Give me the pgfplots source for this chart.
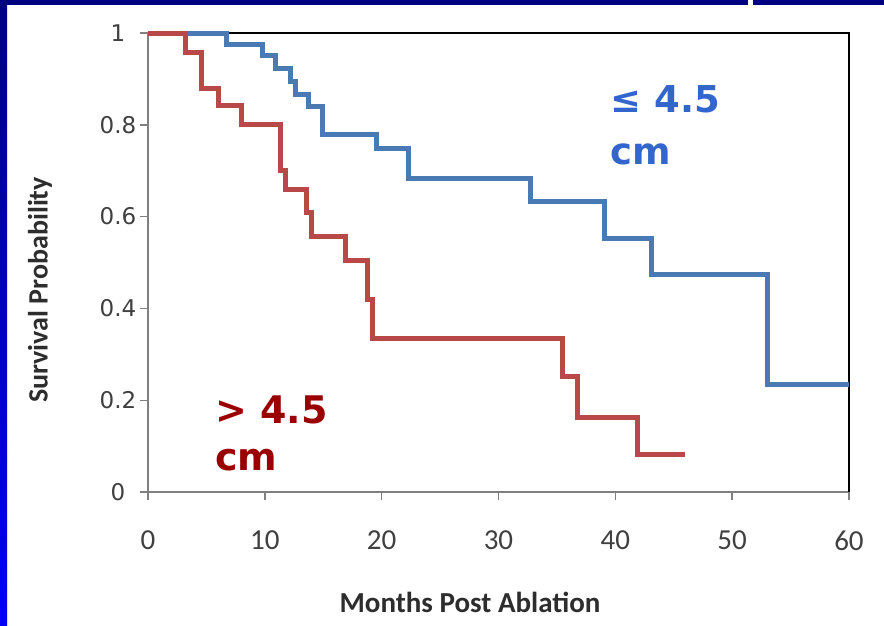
\documentclass[border=0pt]{standalone}
\usepackage{pgfplots}
\pgfplotsset{compat=1.18}
\usepackage{fontspec}
\setmainfont{Carlito}
\newfontfamily\dejavu{DejaVu Sans}
\definecolor{navytop}{RGB}{0,0,128}
\definecolor{bluebot}{RGB}{0,0,245}
\definecolor{blueline}{RGB}{74,122,180}
\definecolor{redline}{RGB}{185,72,72}
\definecolor{bluetext}{RGB}{51,102,204}
\definecolor{redtext}{RGB}{155,0,0}
\definecolor{labgray}{RGB}{64,64,64}

\pgfplotstableread{
x y
0 1
6.7 0.976
9.8 0.952
10.9 0.922
12.2 0.895
12.6 0.866
13.7 0.840
14.9 0.778
19.6 0.749
22.3 0.684
32.7 0.632
39.1 0.553
43.1 0.473
53.0 0.235
60 0.235
}\smalltable

\pgfplotstableread{
x y
0 1
3.2 0.958
4.6 0.880
6.0 0.843
8.0 0.800
11.3 0.700
11.8 0.658
13.6 0.610
14.0 0.556
16.9 0.505
18.8 0.420
19.2 0.335
35.5 0.251
36.8 0.163
41.9 0.081
46.0 0.081
}\largetable

\begin{document}
\begin{tikzpicture}
\path[use as bounding box, fill=white] (0,0) rectangle (442pt,-313pt);
\shade[top color=navytop, bottom color=bluebot] (0,0) rectangle (3.5pt,-313pt);
\fill[navytop] (0,0) rectangle (374pt,-2.5pt);
\fill[navytop] (376.5pt,0) rectangle (442pt,-2.5pt);
\begin{axis}[
  at={(74pt,-246pt)}, anchor=south west,
  width=350.5pt, height=229.5pt, scale only axis,
  xmin=0, xmax=60, ymin=0, ymax=1,
  axis x line=bottom, axis y line=left,
  axis line style={-, draw=gray, line width=0.8pt},
  clip=false,
  xtick={0,10,20,30,40,50,60},
  ytick={0,0.2,0.4,0.6,0.8,1},
  tick align=outside, major tick length=4pt,
  tick style={gray, line width=0.7pt},
  /pgf/number format/assume math mode=true,
  xticklabel style={font=\fontsize{14.5}{14.5}\selectfont, text=labgray, yshift=-12pt},
  yticklabel style={font=\dejavu\fontsize{11.5}{11.5}\selectfont, text=labgray, anchor=center, xshift=-11pt},
]
\draw[black, line width=1.1pt] (rel axis cs:0,1) -- (rel axis cs:1,1) -- (rel axis cs:1,0);
\addplot[const plot, blueline, line width=2.5pt, line join=miter] table[x=x,y=y] {\smalltable};
\addplot[const plot, redline, line width=2.5pt, line join=miter] table[x=x,y=y] {\largetable};
\end{axis}
\node[font=\bfseries\fontsize{14.5}{14.5}\selectfont, text=labgray!70!black] at (235pt,-301pt) {Months Post Ablation};
\node[font=\bfseries\fontsize{14}{14}\selectfont, text=labgray!70!black, rotate=90] at (20pt,-145pt) {Survival Probability};
\node[anchor=base west, inner sep=0pt, font=\dejavu\bfseries\fontsize{18.5}{18.5}\selectfont, text=bluetext] at (305pt,-56.5pt) {≤ 4.5};
\node[anchor=base west, inner sep=0pt, font=\dejavu\bfseries\fontsize{18.5}{18.5}\selectfont, text=bluetext] at (305pt,-82pt) {cm};
\node[anchor=base west, inner sep=0pt, font=\dejavu\bfseries\fontsize{19}{19}\selectfont, text=redtext] at (107.5pt,-211.5pt) {> 4.5};
\node[anchor=base west, inner sep=0pt, font=\dejavu\bfseries\fontsize{19}{19}\selectfont, text=redtext] at (107.5pt,-235pt) {cm};
\end{tikzpicture}
\end{document}
